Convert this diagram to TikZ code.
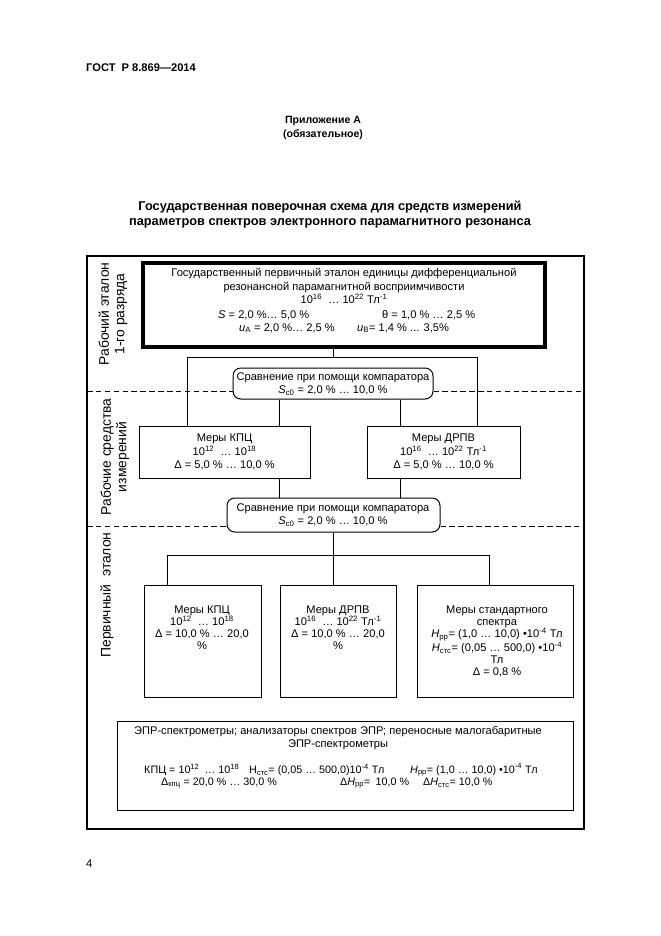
\documentclass[tikz,border=0pt]{standalone}
\usepackage{fontspec}
\setmainfont{Liberation Sans}
\usetikzlibrary{fit}
\begin{document}
\begin{tikzpicture}[x=0.9pt,y=-0.9pt,
  every node/.style={inner sep=0pt, align=center, font=\fontsize{10}{12}\selectfont},
  frame/.style={draw, line width=2.2pt},
  thickbox/.style={draw, line width=4pt, inner sep=0pt},
  box/.style={draw, line width=0.9pt, inner sep=0pt},
  cmpbox/.style={draw, line width=0.9pt, rounded corners=7pt, inner sep=0pt},
  conn/.style={line width=0.8pt},
  sep/.style={line width=0.8pt, dash pattern=on 5pt off 3pt},
  lbl/.style={rotate=90, font=\fontsize{12.5}{14}\selectfont},
  hdr/.style={font=\bfseries\fontsize{10}{12}\selectfont},
  small/.style={font=\fontsize{10}{10.8}\selectfont},
  tight/.style={font=\fontsize{9.7}{12}\selectfont}
]
\useasboundingbox[fill=white] (0,0) rectangle (661,936);

% header
\node[hdr, anchor=west] (gost) at (86,68) {ГОСТ\ \ Р 8.869—2014};
\node[font=\bfseries\fontsize{9.5}{12}\selectfont] (app) at (323,128) {Приложение А\\(обязательное)};
\node[font=\bfseries\fontsize{11.5}{13.5}\selectfont] (title) at (330,214.5)
  {Государственная поверочная схема для средств измерений\\параметров спектров электронного парамагнитного резонанса};

% outer frame
\node[frame, inner sep=0pt, fit={(87,256)(584,829)}] (outer) {};

% side labels
\node[lbl] (lab1) at (113,314) {Рабочий эталон\\1-го разряда};
\node[lbl] (lab2) at (115,457) {Рабочие средства\\измерений};
\node[lbl] (lab3) at (107,595) {Первичный\ \ эталон};

% top box
\node[thickbox, fit={(143,263)(545,347)}] (etalon) {};
\node (et1) at (344,286) {Государственный первичный эталон единицы дифференциальной\\резонансной парамагнитной восприимчивости\\10\textsuperscript{16}\ \ … 10\textsuperscript{22} Тл\textsuperscript{-1}};
\node[anchor=west] (ets) at (218,315) {\textit{S} = 2,0 \%… 5,0 \%};
\node[anchor=west] (etth) at (382,315) {θ = 1,0 \% … 2,5 \%};
\node[anchor=west] (etua) at (239,328) {\textit{u}\textsubscript{А} = 2,0 \%… 2,5 \%};
\node[anchor=west] (etub) at (357,328) {\textit{u}\textsubscript{В}= 1,4 \% ... 3,5\%};

% comparator 1
\node[cmpbox, fit={(233,368)(433,399)}] (cmp1) {};
\node (cmp1t) at (333,384) {Сравнение при помощи компаратора\\\textit{S}\textsubscript{с0} = 2,0 \% … 10,0 \%};

% middle boxes
\node[box, fit={(139,426)(310,478)}] (kpc1) {};
\node (kpc1t) at (kpc1.center) {Меры КПЦ\\10\textsuperscript{12}\ \ … 10\textsuperscript{18}\\Δ = 5,0 \% … 10,0 \%};
\node[box, fit={(367,426)(520,478)}] (drpv1) {};
\node (drpv1t) at (drpv1.center) {Меры ДРПВ\\10\textsuperscript{16}\ \ … 10\textsuperscript{22} Тл\textsuperscript{-1}\\Δ = 5,0 \% … 10,0 \%};

% comparator 2
\node[cmpbox, fit={(227,498)(440,532)}] (cmp2) {};
\node (cmp2t) at (333,515) {Сравнение при помощи компаратора\\\textit{S}\textsubscript{с0} = 2,0 \% … 10,0 \%};

% bottom boxes
\node[box, fit={(144,585)(261,697)}] (b1) {};
\node[small, anchor=north] (b1t) at (202,606) {Меры КПЦ\\10\textsuperscript{12}\ \ … 10\textsuperscript{18}\\Δ = 10,0 \% … 20,0\\\%};
\node[box, fit={(280,585)(396,697)}] (b2) {};
\node[small, anchor=north] (b2t) at (338,606) {Меры ДРПВ\\10\textsuperscript{16}\ \ … 10\textsuperscript{22} Тл\textsuperscript{-1}\\Δ = 10,0 \% … 20,0\\\%};
\node[box, fit={(417,585)(573,697)}] (b3) {};
\node[small, anchor=north] (b3t) at (497,606) {Меры стандартного\\спектра\\\textit{H}\textsubscript{pp}= (1,0 … 10,0) •10\textsuperscript{-4} Тл\\\textit{H}\textsubscript{стс}= (0,05 … 500,0) •10\textsuperscript{-4}\\Тл\\Δ = 0,8 \%};

% bottom wide box
\node[box, fit={(117,721)(573,810)}] (epr) {};
\node (eprt) at (338,738) {ЭПР-спектрометры; анализаторы спектров ЭПР; переносные малогабаритные\\ЭПР-спектрометры};
\node[tight, anchor=west] (q1) at (144,770) {КПЦ = 10\textsuperscript{12}\hspace{2pt} … 10\textsuperscript{18}};
\node[tight, anchor=west] (q2) at (249,770) {Н\textsubscript{стс}= (0,05 … 500,0)10\textsuperscript{-4} Тл};
\node[tight, anchor=west] (q3) at (410,770) {\textit{H}\textsubscript{pp}= (1,0 … 10,0) •10\textsuperscript{-4} Тл};
\node[tight, anchor=west] (r1) at (161,783) {Δ\textsubscript{кпц} = 20,0 \% … 30,0 \%};
\node[tight, anchor=west] (r2) at (340,783) {Δ\textit{H}\textsubscript{pp}=\hspace{2pt} 10,0 \%};
\node[tight, anchor=west] (r3) at (423,783) {Δ\textit{H}\textsubscript{стс}= 10,0 \%};

% page number
\node[anchor=west] (pnum) at (86,864) {4};

% helper coordinates
\coordinate (hL) at (187,357);
\coordinate (hR) at (477,357);
\coordinate (xa) at (279,0);
\coordinate (xb) at (400,0);
\coordinate (h2L) at (167,555);
\coordinate (h2R) at (489,555);
\coordinate (d1L) at (87,391);
\coordinate (d1R) at (584,391);
\coordinate (d2L) at (87,526);
\coordinate (d2R) at (584,526);

% connectors
\draw[conn] (etalon.south -| cmp1.center) -- (cmp1.center |- hL);
\draw[conn] (kpc1.north -| hL) -- (hL) -- (hR) -- (drpv1.north -| hR);
\draw[conn] (cmp1.south -| xa) -- (kpc1.north -| xa);
\draw[conn] (cmp1.south -| xb) -- (drpv1.north -| xb);
\draw[conn] (kpc1.south -| xa) -- (cmp2.north -| xa);
\draw[conn] (drpv1.south -| xb) -- (cmp2.north -| xb);
\draw[conn] (cmp2.south) -- (cmp2.south |- h2L);
\draw[conn] (b1.north -| h2L) -- (h2L) -- (h2R) -- (b3.north -| h2R);
\draw[conn] (b2.north -| cmp2.south) -- (cmp2.south |- h2L);

% dashed separators
\draw[sep] (d1L) -- (d1L -| cmp1.west);
\draw[sep] (cmp1.east |- d1R) -- (d1R);
\draw[sep] (d2L) -- (d2L -| cmp2.west);
\draw[sep] (cmp2.east |- d2R) -- (d2R);
\end{tikzpicture}
\end{document}
